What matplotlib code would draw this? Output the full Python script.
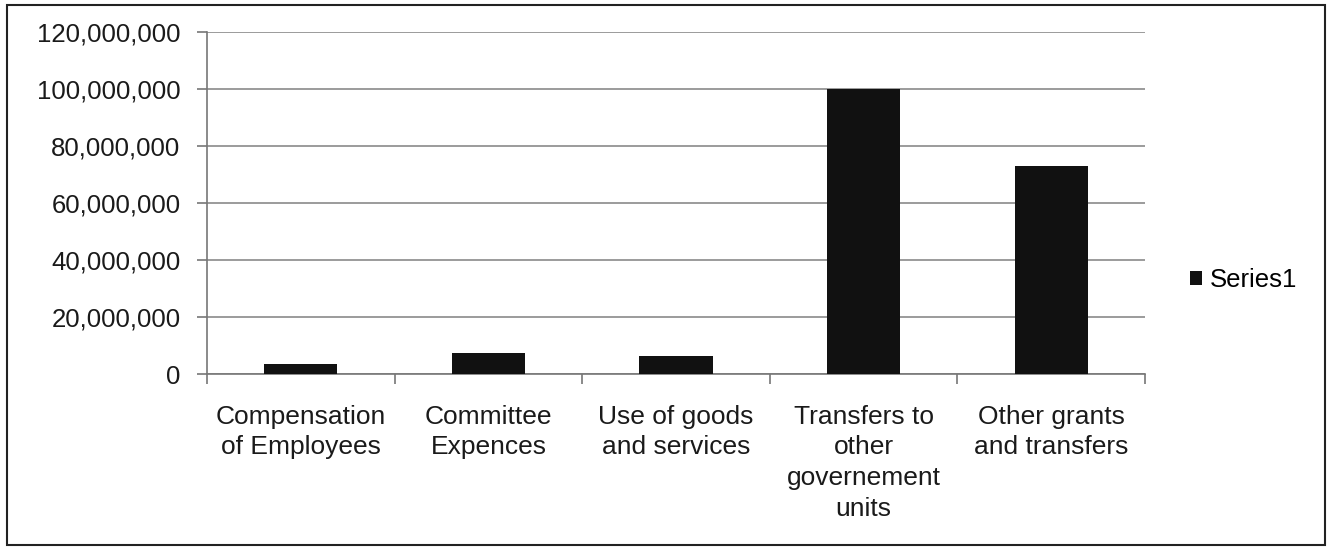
import matplotlib.pyplot as plt
from matplotlib.patches import Rectangle
from matplotlib.ticker import FuncFormatter, FixedLocator, NullFormatter

# Data
categories = ['Compensation\nof Employees', 'Committee\nExpences', 'Use of goods\nand services',
              'Transfers to\nother\ngovernement\nunits', 'Other grants\nand transfers']
values = [3500000, 7500000, 6200000, 100000000, 73000000]
series_name = 'Series1'

plt.rcParams['font.family'] = ['Liberation Sans', 'DejaVu Sans']

fig = plt.figure(figsize=(13.29, 5.47), dpi=100)
ax = fig.add_axes([207 / 1329, 1 - 374 / 547, (1145 - 207) / 1329, (374 - 32) / 547])

x = list(range(len(categories)))
ax.bar(x, values, width=0.39, color='#111111', label=series_name, zorder=3)

ax.set_xlim(-0.5, len(categories) - 0.5)
ax.set_ylim(0, 120000000)
ax.set_yticks(range(0, 120000001, 20000000))
ax.yaxis.set_major_formatter(FuncFormatter(lambda v, p: f'{int(v):,}'))
ax.grid(axis='y', color='#8a8a8a', linewidth=1.2, zorder=0)

# category labels centred, tick marks at the boundaries
ax.set_xticks(x)
ax.set_xticklabels(categories)
ax.tick_params(axis='x', length=0, pad=22, labelsize=19, colors='#1a1a1a')
for lab in ax.get_xticklabels():
    lab.set_linespacing(1.36)
ax.xaxis.set_minor_locator(FixedLocator([i - 0.5 for i in range(len(categories) + 1)]))
ax.xaxis.set_minor_formatter(NullFormatter())
ax.tick_params(axis='x', which='minor', length=7, color='#777777', width=1.2)
ax.tick_params(axis='y', length=7, color='#777777', width=1.2, pad=12, labelsize=18.5)
for lab in ax.get_yticklabels():
    lab.set_color('#1a1a1a')

for side in ['top', 'right']:
    ax.spines[side].set_visible(False)
for side in ['left', 'bottom']:
    ax.spines[side].set_color('#777777')
    ax.spines[side].set_linewidth(1.2)

# legend sits at the vertical middle of the whole chart
ax.legend(loc='center left', bbox_to_anchor=(1167 / 1329, 1 - 280 / 547), bbox_transform=fig.transFigure,
          frameon=False, fontsize=18.5, handlelength=0.45, handleheight=0.45, handletextpad=0.3)

# outer chart border
fig.patches.append(Rectangle((7 / 1329, 2 / 547), 1318 / 1329, 540 / 547, transform=fig.transFigure,
                             fill=False, edgecolor='#222222', linewidth=1.5))

fig.savefig('out.png', dpi=100)
